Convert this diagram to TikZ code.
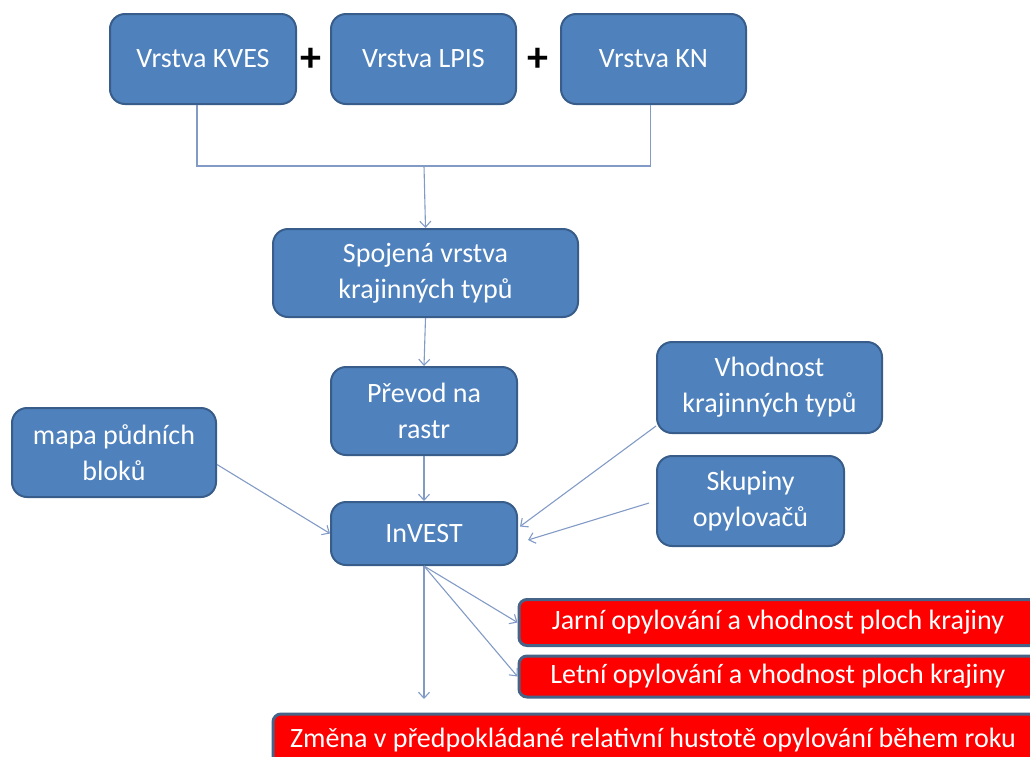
\documentclass[tikz,border=0pt]{standalone}
\usepackage{fontspec}
\setmainfont{Carlito}
\usetikzlibrary{arrows.meta,calc}
\definecolor{boxblue}{RGB}{79,129,189}
\definecolor{boxedge}{RGB}{56,93,138}
\definecolor{redbox}{RGB}{255,0,0}
\definecolor{rededge}{RGB}{70,100,135}
\definecolor{conn}{RGB}{130,155,198}
\tikzset{
  bluebox/.style={draw=boxedge, line width=2pt, fill=boxblue, rounded corners=15pt,
    text=white, align=center, font=\fontsize{28}{36}\selectfont, inner sep=0pt},
  outbox/.style={draw=rededge, line width=3pt, fill=redbox, rounded corners=8pt,
    text=white, font=\fontsize{28}{32}\selectfont, inner sep=0pt},
  conline/.style={draw=conn, line width=1.1pt},
  conarrow/.style={conline, -{Straight Barb[length=6pt,width=11pt]}},
  plus/.style={font=\fontsize{42}{42}\selectfont\bfseries, text=black, inner sep=0pt}
}
\begin{document}
\begin{tikzpicture}[x=1pt,y=-1pt]
\useasboundingbox (0,0) rectangle (1030,756);
\clip (0,0) rectangle (1030,756);
% top layer boxes
\node[bluebox, minimum width=186pt, minimum height=90pt] (kves) at (203,59) {Vrstva KVES};
\node[bluebox, minimum width=185pt, minimum height=90pt] (lpis) at (423.5,59) {Vrstva LPIS};
\node[bluebox, minimum width=185pt, minimum height=90pt] (kn) at (653.5,59) {Vrstva KN};
\node[plus] (plus1) at (311,60) {+};
\node[plus] (plus2) at (538,60) {+};
% middle chain
\node[bluebox, minimum width=305pt, minimum height=88pt] (spoj) at (425.5,273) {Spojená vrstva\\krajinných typů};
\node[bluebox, minimum width=186pt, minimum height=88pt] (prevod) at (424,411) {Převod na\\rastr};
\node[bluebox, minimum width=186pt, minimum height=63pt] (invest) at (424,533.5) {InVEST};
\node[bluebox, minimum width=204pt, minimum height=89pt] (mapa) at (114,452.5) {mapa půdních\\bloků};
\node[bluebox, minimum width=225pt, minimum height=91pt] (vhod) at (769.5,387.5) {Vhodnost\\krajinných typů};
\node[bluebox, minimum width=187pt, minimum height=90pt] (skup) at (750.5,501) {Skupiny\\opylovačů};
% outputs
\node[outbox, minimum width=521pt, minimum height=46pt] (jarni) at (779.5,622.5) {Jarní opylování a vhodnost ploch krajiny\hspace*{3pt}};
\node[outbox, minimum width=521pt, minimum height=41pt] (letni) at (779.5,676.5) {Letní opylování a vhodnost ploch krajiny\hspace*{3pt}};
\node[outbox, minimum width=767pt, minimum height=52pt] (zmena) at (656.5,740) {Změna v předpokládané relativní hustotě opylování během roku\hspace*{7pt}};
% connectors
\coordinate (merge) at (424,166);
\coordinate (downend) at (424,699);
\draw[conline] ($(kves.south)+(-6,0)$) |- (merge) -| ($(kn.south)+(-3,0)$);
\draw[conarrow] (merge) -- (spoj.north);
\draw[conarrow] (spoj.south) -- (prevod.north);
\draw[conarrow] (prevod.south) -- (invest.north);
\draw[conarrow] ($(mapa.east)+(0,12)$) -- (invest.west);
\draw[conarrow] ($(vhod.south west)+(0,-8)$) -- ($(invest.east)+(2,-7)$);
\draw[conarrow] ($(skup.west)+(-7,2)$) -- ($(invest.east)+(10,6.5)$);
\draw[conarrow] (invest.south) -- (jarni.west);
\draw[conarrow] (invest.south) -- (letni.west);
\draw[conarrow] (invest.south) -- (downend);
\end{tikzpicture}
\end{document}
